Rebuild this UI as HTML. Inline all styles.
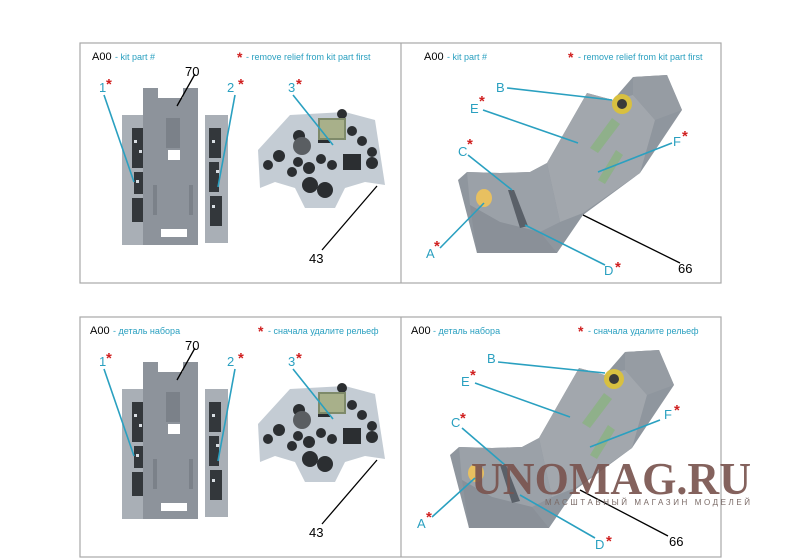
<!DOCTYPE html>
<html><head><meta charset="utf-8"><style>
html,body{margin:0;padding:0;background:#fff;}
svg{display:block;font-family:"Liberation Sans",Arial,sans-serif;}
</style></head><body>
<svg width="800" height="560" viewBox="0 0 800 560" xmlns="http://www.w3.org/2000/svg">
<defs>
<g id="leftc">
  <rect x="122" y="115" width="26" height="130" fill="#a9afb6"/>
  <rect x="205" y="115" width="23" height="128" fill="#a9afb6"/>
  <g fill="#33373b">
    <rect x="132" y="128" width="12" height="40"/><rect x="134" y="172" width="10" height="22"/>
    <rect x="132" y="198" width="12" height="24"/>
    <rect x="209" y="128" width="12" height="30"/><rect x="209" y="162" width="10" height="30"/>
    <rect x="210" y="196" width="12" height="30"/>
  </g>
  <g fill="#d8dde2">
    <rect x="134" y="140" width="3" height="3"/><rect x="139" y="150" width="3" height="3"/>
    <rect x="136" y="180" width="3" height="3"/><rect x="212" y="140" width="3" height="3"/>
    <rect x="216" y="170" width="3" height="3"/><rect x="212" y="205" width="3" height="3"/>
  </g>
  <path d="M143 88 L158 88 L158 98 L183 98 L183 88 L198 88 L198 245 L143 245 Z" fill="#8d939b"/>
  <rect x="166" y="118" width="14" height="30" fill="#7b8189"/>
  <rect x="168" y="150" width="12" height="10" fill="#fff"/>
  <rect x="161" y="229" width="26" height="8" fill="#fff"/>
  <rect x="153" y="185" width="4" height="30" fill="#7b8189"/>
  <rect x="189" y="185" width="4" height="30" fill="#7b8189"/>
  <path d="M258 150 L290 115 L345 112 L375 120 L385 185 L365 182 L345 188 L335 208 L305 208 L295 188 L275 182 L260 188 Z" fill="#c4ccd4"/>
  <g fill="#2b2e31">
    <circle cx="299" cy="136" r="6"/><circle cx="325" cy="127" r="4"/><circle cx="352" cy="131" r="5"/>
    <circle cx="362" cy="141" r="5"/><circle cx="372" cy="152" r="5"/><circle cx="372" cy="163" r="6"/>
    <circle cx="279" cy="156" r="6"/><circle cx="298" cy="162" r="5"/><circle cx="292" cy="172" r="5"/>
    <circle cx="309" cy="168" r="6"/><circle cx="321" cy="159" r="5"/><circle cx="332" cy="165" r="5"/>
    <circle cx="268" cy="165" r="5"/><circle cx="310" cy="185" r="8"/><circle cx="325" cy="190" r="8"/>
    <rect x="343" y="154" width="18" height="16"/><rect x="318" y="138" width="12" height="5"/>
    <circle cx="342" cy="114" r="5"/>
  </g>
  <circle cx="302" cy="146" r="9" fill="#5a5e62"/>
  <rect x="318" y="118" width="28" height="22" fill="#7e8a6a"/>
  <rect x="320" y="120" width="24" height="18" fill="#a8b08a"/>
  <g stroke="#2aa0c0" stroke-width="1.6">
    <line x1="104" y1="95" x2="134" y2="182"/>
    <line x1="235" y1="95" x2="218" y2="187"/>
    <line x1="293" y1="95" x2="333" y2="145"/>
  </g>
  <g stroke="#000" stroke-width="1.3">
    <line x1="195" y1="74" x2="177" y2="106"/>
    <line x1="322" y1="250" x2="377" y2="186"/>
  </g>
  <g font-size="13" fill="#2aa0c0">
    <text x="99" y="92">1</text><text x="227" y="92">2</text><text x="288" y="92">3</text>
  </g>
  <g font-size="15" fill="#d02020" font-weight="bold">
    <text x="106" y="89">*</text><text x="238" y="89">*</text><text x="296" y="89">*</text>
  </g>
  <g font-size="13" fill="#000">
    <text x="185" y="76">70</text><text x="309" y="263">43</text>
  </g>
</g>
<g id="seat">
  <path d="M467 172 L500 173 L530 172 L547 163 L587 93 L613 100 L633 77 L667 75 L682 110 L640 173 L583 215 L557 253 L477 253 L458 180 Z" fill="#8f969e"/>
  <path d="M547 163 L587 93 L613 100 L633 95 L655 120 L640 173 L583 213 L560 222 Z" fill="#a2a7ad"/>
  <path d="M633 77 L667 75 L682 110 L655 120 L633 95 Z" fill="#969ca3"/>
  <path d="M467 172 L500 173 L530 172 L547 163 L560 222 L540 232 L500 222 L470 205 Z" fill="#9ba1a8"/>
  <path d="M470 205 L500 222 L540 232 L557 253 L477 253 Z" fill="#8a9098"/>
  <circle cx="622" cy="104" r="10" fill="#d8c040"/><circle cx="622" cy="104" r="5" fill="#3a3a3a"/>
  <path d="M590 148 L612 118 L620 124 L598 153 Z" fill="#8fb08a"/>
  <path d="M598 180 L616 150 L623 155 L605 184 Z" fill="#8fb08a"/>
  <ellipse cx="484" cy="198" rx="8" ry="9" fill="#e8c060"/>
  <path d="M508 190 L514 190 L528 226 L520 228 Z" fill="#5a6068"/>
</g>
</defs>

<g fill="none" stroke="#a8a8a8" stroke-width="1.2">
  <rect x="80" y="43" width="641" height="240"/>
  <line x1="401" y1="43" x2="401" y2="283"/>
  <rect x="80" y="317" width="641" height="240"/>
  <line x1="401" y1="317" x2="401" y2="557"/>
</g>

<g font-size="11">
  <text x="92" y="60" fill="#000">A00</text><text x="115" y="60" fill="#2aa0c0" font-size="9">- kit part #</text>
  <text x="237" y="62" fill="#d02020" font-size="14" font-weight="bold">*</text><text x="246" y="60" fill="#2aa0c0" font-size="9">- remove relief from kit part first</text>
  <text x="424" y="60" fill="#000">A00</text><text x="447" y="60" fill="#2aa0c0" font-size="9">- kit part #</text>
  <text x="568" y="62" fill="#d02020" font-size="14" font-weight="bold">*</text><text x="578" y="60" fill="#2aa0c0" font-size="9">- remove relief from kit part first</text>
  <text x="90" y="334" fill="#000">A00</text><text x="113" y="334" fill="#2aa0c0" font-size="9">- деталь набора</text>
  <text x="258" y="336" fill="#d02020" font-size="14" font-weight="bold">*</text><text x="268" y="334" fill="#2aa0c0" font-size="9">- сначала удалите рельеф</text>
  <text x="411" y="334" fill="#000">A00</text><text x="433" y="334" fill="#2aa0c0" font-size="9">- деталь набора</text>
  <text x="578" y="336" fill="#d02020" font-size="14" font-weight="bold">*</text><text x="588" y="334" fill="#2aa0c0" font-size="9">- сначала удалите рельеф</text>
</g>

<use href="#leftc"/>
<use href="#leftc" transform="translate(0,274)"/>

<use href="#seat"/>
<g stroke="#2aa0c0" stroke-width="1.6">
  <line x1="507" y1="88" x2="612" y2="100"/>
  <line x1="483" y1="110" x2="578" y2="143"/>
  <line x1="468" y1="155" x2="512" y2="190"/>
  <line x1="440" y1="248" x2="484" y2="203"/>
  <line x1="605" y1="265" x2="525" y2="225"/>
  <line x1="672" y1="143" x2="598" y2="172"/>
</g>
<line x1="680" y1="263" x2="583" y2="215" stroke="#000" stroke-width="1.3"/>
<g font-size="13" fill="#2aa0c0">
  <text x="496" y="92">B</text><text x="470" y="113">E</text><text x="458" y="156">C</text>
  <text x="426" y="258">A</text><text x="604" y="275">D</text><text x="673" y="146">F</text>
</g>
<g font-size="15" fill="#d02020" font-weight="bold">
  <text x="479" y="106">*</text><text x="467" y="149">*</text><text x="434" y="251">*</text>
  <text x="615" y="272">*</text><text x="682" y="141">*</text>
</g>
<text x="678" y="273" font-size="13" fill="#000">66</text>

<use href="#seat" transform="translate(-8,275)"/>
<g stroke="#2aa0c0" stroke-width="1.6">
  <line x1="498" y1="362" x2="605" y2="373"/>
  <line x1="475" y1="383" x2="570" y2="417"/>
  <line x1="462" y1="428" x2="505" y2="465"/>
  <line x1="432" y1="517" x2="475" y2="478"/>
  <line x1="595" y1="538" x2="520" y2="495"/>
  <line x1="660" y1="420" x2="590" y2="447"/>
</g>
<line x1="668" y1="536" x2="580" y2="490" stroke="#000" stroke-width="1.3"/>
<g font-size="13" fill="#2aa0c0">
  <text x="487" y="363">B</text><text x="461" y="386">E</text><text x="451" y="427">C</text>
  <text x="417" y="528">A</text><text x="595" y="549">D</text><text x="664" y="419">F</text>
</g>
<g font-size="15" fill="#d02020" font-weight="bold">
  <text x="470" y="380">*</text><text x="460" y="423">*</text><text x="426" y="522">*</text>
  <text x="606" y="546">*</text><text x="674" y="415">*</text>
</g>
<text x="669" y="546" font-size="13" fill="#000">66</text>

<text x="471" y="494" font-family="Liberation Serif,serif" font-size="46" font-weight="bold" fill="#7a5550" opacity="0.92" textLength="280" lengthAdjust="spacingAndGlyphs">UNOMAG.RU</text>
<text x="545" y="505" font-size="8" fill="#7a6a66" textLength="205" lengthAdjust="spacing">МАСШТАБНЫЙ МАГАЗИН МОДЕЛЕЙ</text>
</svg>
</body></html>
